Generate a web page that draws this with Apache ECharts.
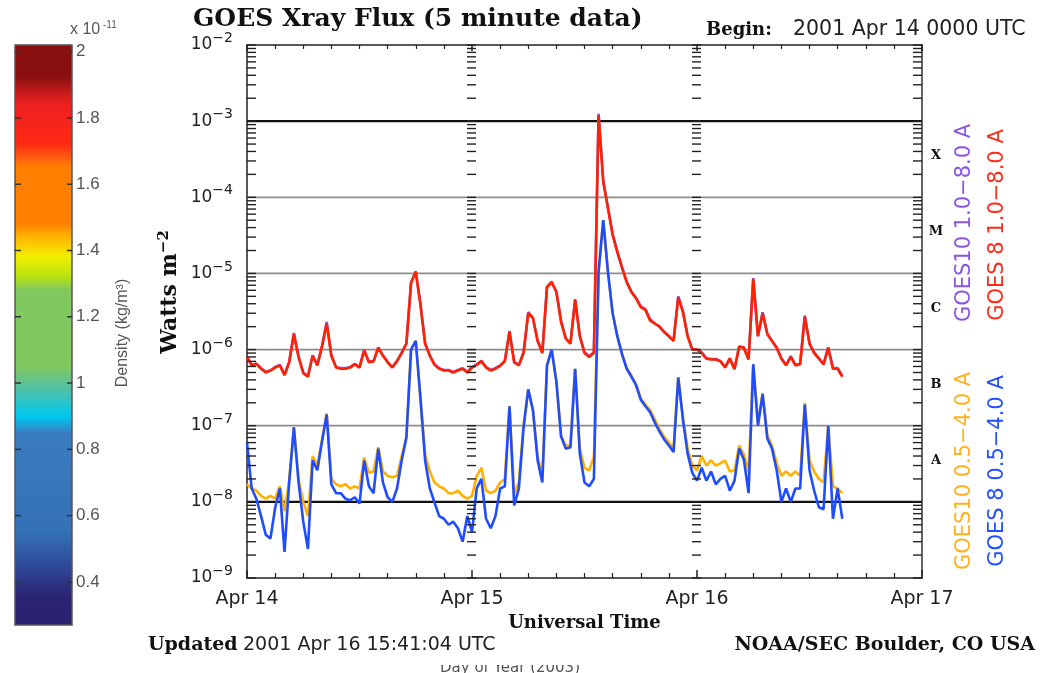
<!DOCTYPE html>
<html><head><meta charset="utf-8">
<script src="https://cdn.jsdelivr.net/npm/echarts@6/dist/echarts.min.js"></script>
<style>html,body{margin:0;padding:0;background:#fff}#c{width:1043px;height:673px}</style>
</head><body><div id="c"></div>
<script>
// ---------- data ----------
const dayLabels = ['Apr 14', 'Apr 15', 'Apr 16', 'Apr 17'];
const sampleStartHour = 0;      // hours after 2001 Apr 14 0000 UTC
const sampleStepHours = 0.5;    // one reading every 30 minutes

const goes10Long = [
 8e-7, 6.3e-7, 6.5e-7, 5.7e-7, 5.1e-7, 5.3e-7, 5.9e-7, 6.3e-7, 4.7e-7, 6.9e-7,
 1.65e-6, 8e-7, 5e-7, 4.5e-7, 8.4e-7, 6.3e-7, 1.1e-6, 2.3e-6, 8.4e-7, 5.9e-7,
 5.7e-7, 5.7e-7, 5.9e-7, 6.5e-7, 5.9e-7, 1e-6, 6.9e-7, 7.1e-7, 1.07e-6, 8.4e-7,
 6.9e-7, 5.9e-7, 7.1e-7, 9.2e-7, 1.2e-6, 7.6e-6, 1.07e-5, 4e-6, 1.2e-6, 8.4e-7,
 6.4e-7, 5.7e-7, 5.4e-7, 5.4e-7, 5.1e-7, 5.4e-7, 5.7e-7, 5.1e-7, 5.9e-7, 6.4e-7,
 7.1e-7, 5.9e-7, 5.4e-7, 5.7e-7, 6.2e-7, 7.1e-7, 1.75e-6, 6.9e-7, 6.3e-7, 9.2e-7,
 3.1e-6, 2.6e-6, 1.3e-6, 9.2e-7, 6.7e-6, 7.8e-6, 5.8e-6, 2.4e-6, 1.4e-6, 1.2e-6,
 4.6e-6, 1.5e-6, 9.2e-7, 8.2e-7, 9.2e-7, 1.25e-3, 1.65e-4, 7.4e-5, 3.3e-5, 1.95e-5,
 1.2e-5, 7.8e-6, 5.8e-6, 4.8e-6, 3.7e-6, 3.4e-6, 2.5e-6, 2.2e-6, 2e-6, 1.7e-6,
 1.5e-6, 1.3e-6, 5e-6, 3.2e-6, 1.5e-6, 1e-6, 1e-6, 9.2e-7, 7.7e-7, 7.5e-7,
 7.5e-7, 7.1e-7, 5.9e-7, 7.7e-7, 5.6e-7, 1.1e-6, 1.07e-6, 7.5e-7, 8.7e-6, 1.5e-6,
 3.1e-6, 1.6e-6, 1.3e-6, 1.07e-6, 7.7e-7, 6.3e-7, 8.2e-7, 6.3e-7, 6.5e-7, 2.8e-6,
 1.2e-6, 9.2e-7, 7.7e-7, 6.5e-7, 1.07e-6, 5.7e-7, 5.7e-7, 4.5e-7
];
const goes8Long = [
 8e-7, 6.2e-7, 6.5e-7, 5.6e-7, 5e-7, 5.3e-7, 5.8e-7, 6.2e-7, 4.6e-7, 6.8e-7,
 1.6e-6, 8e-7, 4.9e-7, 4.4e-7, 8.3e-7, 6.2e-7, 1.1e-6, 2.2e-6, 8.3e-7, 5.8e-7,
 5.6e-7, 5.6e-7, 5.8e-7, 6.4e-7, 5.8e-7, 9.7e-7, 6.8e-7, 7e-7, 1.05e-6, 8.3e-7,
 6.8e-7, 5.8e-7, 7e-7, 9e-7, 1.2e-6, 7.5e-6, 1.05e-5, 3.9e-6, 1.2e-6, 8.3e-7,
 6.3e-7, 5.6e-7, 5.3e-7, 5.3e-7, 5e-7, 5.3e-7, 5.6e-7, 5e-7, 5.8e-7, 6.3e-7,
 7e-7, 5.8e-7, 5.3e-7, 5.6e-7, 6.1e-7, 7e-7, 1.7e-6, 6.8e-7, 6.2e-7, 9e-7,
 3e-6, 2.6e-6, 1.3e-6, 9e-7, 6.6e-6, 7.6e-6, 5.7e-6, 2.3e-6, 1.4e-6, 1.2e-6,
 4.5e-6, 1.5e-6, 9e-7, 8e-7, 9e-7, 1.2e-3, 1.6e-4, 7.2e-5, 3.2e-5, 1.9e-5,
 1.2e-5, 7.7e-6, 5.7e-6, 4.7e-6, 3.6e-6, 3.3e-6, 2.4e-6, 2.2e-6, 2e-6, 1.7e-6,
 1.5e-6, 1.3e-6, 4.9e-6, 3.1e-6, 1.5e-6, 1e-6, 1e-6, 9e-7, 7.6e-7, 7.4e-7,
 7.4e-7, 7e-7, 5.8e-7, 7.6e-7, 5.5e-7, 1.1e-6, 1.05e-6, 7.4e-7, 8.5e-6, 1.5e-6,
 3e-6, 1.6e-6, 1.3e-6, 1.05e-6, 7.6e-7, 6.2e-7, 8e-7, 6.2e-7, 6.4e-7, 2.7e-6,
 1.2e-6, 9e-7, 7.6e-7, 6.4e-7, 1.05e-6, 5.6e-7, 5.6e-7, 4.4e-7
];
const goes10Short = [
 1.7e-8, 1.5e-8, 1.4e-8, 1.2e-8, 1.1e-8, 1.2e-8, 1.1e-8, 1.6e-8, 7.5e-9, 1.9e-8,
 9.5e-8, 2e-8, 1e-8, 6.5e-9, 4e-8, 3e-8, 6.5e-8, 1.45e-7, 2e-8, 1.7e-8,
 1.6e-8, 1.7e-8, 1.5e-8, 1.6e-8, 1.5e-8, 3.8e-8, 2.4e-8, 2.5e-8, 5.2e-8, 2.5e-8,
 2.2e-8, 2.1e-8, 2.2e-8, 4e-8, 7e-8, 1e-6, 1.3e-6, 2.3e-7, 4.2e-8, 2.5e-8,
 1.8e-8, 1.6e-8, 1.5e-8, 1.3e-8, 1.3e-8, 1.4e-8, 1.2e-8, 1.1e-8, 1.2e-8, 2.2e-8,
 2.8e-8, 1.4e-8, 1.3e-8, 1.4e-8, 1.8e-8, 2e-8, 1.8e-7, 1.3e-8, 1.8e-8, 1e-7,
 3e-7, 1.6e-7, 4e-8, 2.2e-8, 6.2e-7, 1e-6, 3.8e-7, 7.5e-8, 5.5e-8, 5.5e-8,
 5.6e-7, 5e-8, 2.8e-8, 2.6e-8, 3.9e-8, 1.05e-5, 5e-5, 1.05e-5, 3e-6, 1.5e-6,
 8.8e-7, 5.8e-7, 4.6e-7, 3.5e-7, 2.3e-7, 1.9e-7, 1.6e-7, 1.2e-7, 9e-8, 7.2e-8,
 6e-8, 5e-8, 4.3e-7, 1.3e-7, 5e-8, 3e-8, 2.6e-8, 4e-8, 3e-8, 3.5e-8,
 3e-8, 3.2e-8, 3.5e-8, 2.5e-8, 2.6e-8, 5.5e-8, 4.2e-8, 2.5e-8, 6.4e-7, 1.1e-7,
 2.7e-7, 7.5e-8, 5.5e-8, 3.2e-8, 2.2e-8, 2.5e-8, 2.2e-8, 2.5e-8, 2.2e-8, 2e-7,
 3.5e-8, 2.5e-8, 2e-8, 1.8e-8, 1e-7, 1.6e-8, 1.5e-8, 1.3e-8
];
const goes8Short = [
 6e-8, 1.5e-8, 1.1e-8, 6.5e-9, 3.7e-9, 3.3e-9, 8.3e-9, 1.5e-8, 2.2e-9, 1.8e-8,
 9.5e-8, 1.8e-8, 5.5e-9, 2.4e-9, 3.5e-8, 2.6e-8, 6.2e-8, 1.4e-7, 1.7e-8, 1.3e-8,
 1.3e-8, 1.1e-8, 1.05e-8, 1.15e-8, 9.5e-9, 3.5e-8, 1.6e-8, 1.3e-8, 5e-8, 1.8e-8,
 1.15e-8, 1e-8, 1.5e-8, 3.5e-8, 7e-8, 1e-6, 1.3e-6, 2.3e-7, 3.5e-8, 1.5e-8,
 9.8e-9, 6.5e-9, 6e-9, 5e-9, 5.5e-9, 4.5e-9, 3e-9, 6.5e-9, 4e-9, 1.5e-8,
 2e-8, 6e-9, 4.5e-9, 6.5e-9, 1.5e-8, 1.6e-8, 1.8e-7, 9e-9, 1.5e-8, 9.5e-8,
 3e-7, 1.6e-7, 3.5e-8, 1.8e-8, 6.2e-7, 1e-6, 3.8e-7, 7.2e-8, 5e-8, 5.2e-8,
 5.6e-7, 4.3e-8, 1.8e-8, 1.6e-8, 2e-8, 1.05e-5, 5e-5, 1.05e-5, 3e-6, 1.5e-6,
 8.7e-7, 5.6e-7, 4.4e-7, 3.4e-7, 2.2e-7, 1.8e-7, 1.5e-7, 1.1e-7, 8.4e-8, 6.6e-8,
 5.5e-8, 4.5e-8, 4.3e-7, 1.2e-7, 4.3e-8, 2.4e-8, 1.9e-8, 2.8e-8, 1.9e-8, 2.5e-8,
 1.7e-8, 2e-8, 2.2e-8, 1.4e-8, 1.9e-8, 5e-8, 3.6e-8, 1.3e-8, 6.4e-7, 1e-7,
 2.6e-7, 6.8e-8, 5e-8, 2.6e-8, 1e-8, 1.5e-8, 1e-8, 1.5e-8, 1.5e-8, 1.9e-7,
 2.6e-8, 1.4e-8, 8.5e-9, 8e-9, 1e-7, 6e-9, 1.5e-8, 6e-9
];

const fluxMin = 1e-9, fluxMax = 1e-2;
const flareLevels = [1e-3, 1e-4, 1e-5, 1e-6, 1e-7, 1e-8];
const strongLevels = [1e-3, 1e-8];
const classLetters = ['X', 'M', 'C', 'B', 'A'];
const classValues = [3.5e-4, 3.5e-5, 3.5e-6, 3.5e-7, 3.5e-8];
const ladderHours = [0, 24, 48, 72];
const densityTicks = [0.4, 0.6, 0.8, 1, 1.2, 1.4, 1.6, 1.8, 2];
const densityMin = 0.27, densityMax = 2.02;

// ---------- helpers ----------
function pairs(vals) { return vals.map((v, i) => [sampleStartHour + i * sampleStepHours, v]); }
const yTickVals = [];
for (let e = -9; e < -2; e++) for (let m = 1; m < 10; m++) yTickVals.push(m * Math.pow(10, e));
yTickVals.push(1e-2);
const ladderData = [];
ladderHours.forEach(h => yTickVals.forEach(v => ladderData.push([h, v])));

const SERIF = '"DejaVu Serif", serif';
const SANS = '"DejaVu Sans", sans-serif';
const CBF = '"Liberation Sans", Arial, sans-serif';

const chart = echarts.init(document.getElementById('c'));

function lineSeries(name, vals, color) {
  return {
    name, type: 'line', xAxisIndex: 0, yAxisIndex: 0, data: pairs(vals),
    showSymbol: false, symbol: 'none', smooth: false, clip: true, z: 3,
    lineStyle: { color, width: 2.6 }, itemStyle: { color }
  };
}

const cbStops = [
  { offset: 0, color: '#8a1010' }, { offset: 0.057, color: '#8a1010' },
  { offset: 0.08, color: '#c01a1a' }, { offset: 0.103, color: '#ee2020' },
  { offset: 0.171, color: '#ff2a14' }, { offset: 0.194, color: '#ff5a10' },
  { offset: 0.211, color: '#ff8000' }, { offset: 0.309, color: '#ff8000' },
  { offset: 0.331, color: '#ffb400' }, { offset: 0.366, color: '#f2f000' },
  { offset: 0.4, color: '#b8e010' }, { offset: 0.423, color: '#80c860' },
  { offset: 0.554, color: '#80c860' }, { offset: 0.594, color: '#50c0a8' },
  { offset: 0.64, color: '#00c8f0' }, { offset: 0.669, color: '#3a7cc0' },
  { offset: 0.84, color: '#3470b5' }, { offset: 0.897, color: '#2e4a98' },
  { offset: 0.949, color: '#2a2472' }, { offset: 1, color: '#2a2070' }
];

const option = {
  animation: false,
  backgroundColor: '#fff',
  grid: [
    { left: 247, top: 45, width: 675, height: 533, show: false },
    { left: 15, top: 45, width: 57, height: 580, show: false }
  ],
  xAxis: [
    {
      gridIndex: 0, type: 'value', min: 0, max: 72, interval: 24, position: 'bottom',
      axisLine: { show: true, onZero: false, lineStyle: { color: '#222', width: 1.5 } },
      axisTick: { show: true, inside: true, length: 8, lineStyle: { color: '#222', width: 1.5 } },
      minorTick: { show: true, splitNumber: 8, length: 5, lineStyle: { color: '#222', width: 1.2 } },
      splitLine: { show: false }, minorSplitLine: { show: false },
      axisLabel: { margin: 12, fontFamily: SANS, fontSize: 19, color: '#222',
        formatter: v => dayLabels[Math.round(v / 24)] },
      name: 'Universal Time', nameLocation: 'middle', nameGap: 25,
      nameTextStyle: { fontFamily: SERIF, fontWeight: 'bold', fontSize: 18, color: '#111' }
    },
    {
      gridIndex: 0, type: 'value', min: 0, max: 72, interval: 24, position: 'top',
      axisLine: { show: true, onZero: false, lineStyle: { color: '#222', width: 1.5 } },
      axisTick: { show: true, inside: true, length: 6, lineStyle: { color: '#222', width: 1.5 } },
      minorTick: { show: true, splitNumber: 8, length: 4, lineStyle: { color: '#222', width: 1.2 } },
      splitLine: { show: false }, minorSplitLine: { show: false },
      axisLabel: { show: false }
    },
    { gridIndex: 1, type: 'value', min: 0, max: 1, show: false }
  ],
  yAxis: [
    {
      gridIndex: 0, type: 'log', logBase: 10, min: fluxMin, max: fluxMax, interval: 1,
      axisLine: { show: true, onZero: false, lineStyle: { color: '#222', width: 1.5 } },
      axisTick: { show: false }, splitLine: { show: false },
      axisLabel: {
        margin: 14,
        formatter: v => '{b|10}{s|−' + (-Math.round(Math.log10(v))) + '}',
        rich: {
          b: { fontFamily: SANS, fontSize: 17, color: '#222' },
          s: { fontFamily: SANS, fontSize: 14, color: '#222', padding: [0, 0, 13, 0] }
        }
      }
    },
    {
      gridIndex: 0, type: 'log', logBase: 10, min: fluxMin, max: fluxMax, interval: 1, position: 'right',
      axisLine: { show: true, onZero: false, lineStyle: { color: '#555', width: 1.8 } },
      axisTick: { show: false }, splitLine: { show: false }, axisLabel: { show: false }
    },
    { gridIndex: 1, type: 'value', min: densityMin, max: densityMax, show: false }
  ],
  series: [
    {
      type: 'custom', xAxisIndex: 0, yAxisIndex: 0, silent: true, z: 1,
      data: flareLevels.map(v => [0, v]),
      renderItem: (params, api) => {
        const v = api.value(1);
        const a = api.coord([0, v]), b = api.coord([72, v]);
        const strong = strongLevels.includes(v);
        return { type: 'line', shape: { x1: a[0], y1: a[1], x2: b[0], y2: b[1] },
          style: { stroke: strong ? '#111' : '#8c8c8c', lineWidth: strong ? 2.2 : 1.8 } };
      }
    },
    lineSeries('GOES10 1.0-8.0 A', goes10Long, '#8a55e0'),
    lineSeries('GOES 8 1.0-8.0 A', goes8Long, '#ff2200'),
    lineSeries('GOES10 0.5-4.0 A', goes10Short, '#ffb000'),
    lineSeries('GOES 8 0.5-4.0 A', goes8Short, '#1f4cff'),
    {
      type: 'custom', xAxisIndex: 0, yAxisIndex: 0, silent: true, data: ladderData, z: 5,
      renderItem: (params, api) => {
        const h = api.value(0), v = api.value(1);
        const p = api.coord([h, v]);
        let x1, x2;
        if (h === ladderHours[0]) { x1 = p[0]; x2 = p[0] + 9; }
        else if (h === ladderHours[ladderHours.length - 1]) { x1 = p[0] - 9; x2 = p[0]; }
        else { x1 = p[0] - 5; x2 = p[0] + 4; }
        return { type: 'line', shape: { x1, y1: p[1], x2, y2: p[1] },
          style: { stroke: '#222', lineWidth: 1.4 } };
      }
    },
    {
      type: 'custom', xAxisIndex: 0, yAxisIndex: 0, silent: true,
      data: classValues.map((v, i) => [72, v, i]),
      renderItem: (params, api) => {
        const p = api.coord([api.value(0), api.value(1)]);
        return { type: 'text', x: p[0] + 14, y: p[1],
          style: { text: classLetters[api.value(2)], font: 'bold 13px ' + SERIF, fill: '#111',
            align: 'center', verticalAlign: 'middle', textAlign: 'center', textVerticalAlign: 'middle' } };
      }
    },
    {
      type: 'custom', xAxisIndex: 2, yAxisIndex: 2, silent: true,
      data: [[0, densityMin, 1, densityMax]],
      renderItem: (params, api) => {
        const a = api.coord([api.value(0), api.value(3)]);
        const b = api.coord([api.value(2), api.value(1)]);
        return { type: 'rect', shape: { x: a[0], y: a[1], width: b[0] - a[0], height: b[1] - a[1] },
          style: { fill: new echarts.graphic.LinearGradient(0, 0, 0, 1, cbStops), stroke: '#555', lineWidth: 1.5 } };
      }
    },
    {
      type: 'custom', xAxisIndex: 2, yAxisIndex: 2, silent: true, z: 5,
      data: densityTicks.map(v => [0, v]),
      renderItem: (params, api) => {
        const v = api.value(1);
        const l = api.coord([0, v]), r = api.coord([1, v]);
        return { type: 'group', children: [
          { type: 'line', shape: { x1: l[0], y1: l[1], x2: l[0] + 6, y2: l[1] }, style: { stroke: '#333', lineWidth: 1.5 } },
          { type: 'line', shape: { x1: r[0] - 5, y1: r[1], x2: r[0], y2: r[1] }, style: { stroke: '#333', lineWidth: 1.5 } },
          { type: 'text', x: r[0] + 4, y: r[1], style: { text: String(v), font: '17px ' + CBF, fill: '#555',
            align: 'left', verticalAlign: 'middle', textAlign: 'left', textVerticalAlign: 'middle' } }
        ] };
      }
    }
  ],
  graphic: [
    { type: 'text', x: 510, y: 668, z: 1, style: { text: 'Day of Year (2003)', font: '15px ' + SANS, fill: '#555',
      align: 'center', verticalAlign: 'middle', textAlign: 'center', textVerticalAlign: 'middle' } },
    { type: 'rect', z: 2, shape: { x: 415, y: 650, width: 190, height: 15 }, style: { fill: '#fff' } },
    { type: 'text', x: 193, y: 19, z: 3, style: { text: 'GOES Xray Flux (5 minute data)', font: 'bold 25px ' + SERIF, fill: '#111',
      align: 'left', verticalAlign: 'middle', textAlign: 'left', textVerticalAlign: 'middle' } },
    { type: 'text', x: 706, y: 30, z: 3, style: { text: 'Begin:', font: 'bold 18px ' + SERIF, fill: '#111',
      align: 'left', verticalAlign: 'middle', textAlign: 'left', textVerticalAlign: 'middle' } },
    { type: 'text', x: 793, y: 30, z: 3, style: { text: '2001 Apr 14 0000 UTC', font: '20.5px ' + SANS, fill: '#222',
      align: 'left', verticalAlign: 'middle', textAlign: 'left', textVerticalAlign: 'middle' } },
    { type: 'text', x: 148, y: 645, z: 3, style: { text: 'Updated', font: 'bold 19px ' + SERIF, fill: '#111',
      align: 'left', verticalAlign: 'middle', textAlign: 'left', textVerticalAlign: 'middle' } },
    { type: 'text', x: 243, y: 645, z: 3, style: { text: '2001 Apr 16 15:41:04 UTC', font: '19px ' + SANS, fill: '#222',
      align: 'left', verticalAlign: 'middle', textAlign: 'left', textVerticalAlign: 'middle' } },
    { type: 'text', x: 1035, y: 645, z: 3, style: { text: 'NOAA/SEC Boulder, CO USA', font: 'bold 19px ' + SERIF, fill: '#111',
      align: 'right', verticalAlign: 'middle', textAlign: 'right', textVerticalAlign: 'middle' } },
    { type: 'text', x: 170, y: 292, z: 3, rotation: Math.PI / 2, style: {
      text: '{n|Watts m}{s|−2}', align: 'center', verticalAlign: 'middle', textAlign: 'center', textVerticalAlign: 'middle',
      rich: { n: { font: 'bold 22px ' + SERIF, fill: '#111' }, s: { font: 'bold 15px ' + SERIF, fill: '#111', padding: [0, 0, 12, 0] } } } },
    { type: 'text', x: 70, y: 30, z: 3, style: {
      text: '{a|x 10}{s| -11}', align: 'left', verticalAlign: 'middle', textAlign: 'left', textVerticalAlign: 'middle',
      rich: { a: { font: '16px ' + CBF, fill: '#555' }, s: { font: '10px ' + CBF, fill: '#555', padding: [0, 0, 10, 0] } } } },
    { type: 'text', x: 123, y: 333, z: 3, rotation: Math.PI / 2, style: { text: 'Density (kg/m³)', font: '16px ' + CBF, fill: '#555',
      align: 'center', verticalAlign: 'middle', textAlign: 'center', textVerticalAlign: 'middle' } },
    { type: 'text', x: 965, y: 223, z: 3, rotation: Math.PI / 2, style: { text: 'GOES10 1.0−8.0 A', font: '21px ' + SANS, fill: '#8a55e0',
      align: 'center', verticalAlign: 'middle', textAlign: 'center', textVerticalAlign: 'middle' } },
    { type: 'text', x: 998, y: 225, z: 3, rotation: Math.PI / 2, style: { text: 'GOES 8 1.0−8.0 A', font: '21px ' + SANS, fill: '#ff2a1a',
      align: 'center', verticalAlign: 'middle', textAlign: 'center', textVerticalAlign: 'middle' } },
    { type: 'text', x: 965, y: 471, z: 3, rotation: Math.PI / 2, style: { text: 'GOES10 0.5−4.0 A', font: '21px ' + SANS, fill: '#ffb020',
      align: 'center', verticalAlign: 'middle', textAlign: 'center', textVerticalAlign: 'middle' } },
    { type: 'text', x: 998, y: 471, z: 3, rotation: Math.PI / 2, style: { text: 'GOES 8 0.5−4.0 A', font: '21px ' + SANS, fill: '#2050ff',
      align: 'center', verticalAlign: 'middle', textAlign: 'center', textVerticalAlign: 'middle' } }
  ]
};
chart.setOption(option);
</script></body></html>
